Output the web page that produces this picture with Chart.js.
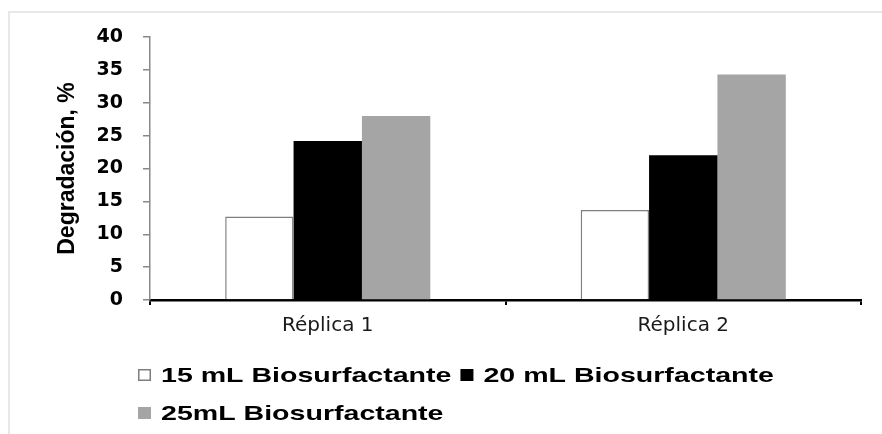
<!DOCTYPE html>
<html><head><meta charset="utf-8">
<script src="https://cdn.jsdelivr.net/npm/chart.js@4/dist/chart.umd.min.js"></script>
<style>
html,body{margin:0;padding:0;background:#fff;}
#wrap{position:relative;width:882px;height:434px;overflow:hidden;}
#frame{position:absolute;left:8px;top:11px;width:900px;height:450px;border-left:2px solid #e8e8e8;border-top:2px solid #e8e8e8;}
canvas{position:absolute;left:0;top:0;}
</style></head><body>
<div id="wrap"><div id="frame"></div><canvas id="c" width="882" height="434"></canvas></div>
<script>
const categories = ['Réplica 1', 'Réplica 2'];
const seriesLabels = ['15 mL Biosurfactante', '20 mL Biosurfactante', '25mL Biosurfactante'];
const values15 = [12.7, 13.7];
const values20 = [24.2, 22.0];
const values25 = [28.0, 34.3];
const yMin = 0, yMax = 40, yStep = 5;
const yTitle = 'Degradación, %';

const legendPlugin = {
  id: 'customLegend',
  afterDraw(chart) {
    const ctx = chart.ctx;
    const sx = 1.36, left = 138, rowH = 38, maxRight = 870;
    let x = left, y = 375;
    ctx.save();
    ctx.font = 'bold 21px "Liberation Sans", Arial, sans-serif';
    ctx.textBaseline = 'middle';
    chart.data.datasets.forEach(ds => {
      const tw = ctx.measureText(ds.label).width * sx;
      const w = 13 + 10 + tw;
      if (x + w > maxRight && x > left) { x = left; y += rowH; }
      ctx.fillStyle = ds.backgroundColor;
      ctx.fillRect(x, y - 6, 13, 12);
      if (ds.borderWidth) {
        ctx.strokeStyle = ds.borderColor; ctx.lineWidth = 1.5;
        ctx.strokeRect(x + 0.75, y - 5.25, 11.5, 10.5);
      }
      ctx.save();
      ctx.translate(x + 23, y + 1);
      ctx.scale(sx, 1);
      ctx.fillStyle = '#000';
      ctx.fillText(ds.label, 0, 0);
      ctx.restore();
      x += w + 9;
    });
    ctx.restore();
  }
};

new Chart(document.getElementById('c'), {
  type: 'bar',
  data: {
    labels: categories,
    datasets: [
      { label: seriesLabels[0], data: values15, backgroundColor: '#ffffff', borderColor: '#7f7f7f', borderWidth: 1.5, borderSkipped: 'start' },
      { label: seriesLabels[1], data: values20, backgroundColor: '#000000', borderWidth: 0 },
      { label: seriesLabels[2], data: values25, backgroundColor: '#a5a5a5', borderWidth: 0 }
    ]
  },
  options: {
    responsive: false,
    animation: false,
    categoryPercentage: 0.577,
    barPercentage: 1.0,
    layout: { padding: { left: 0, right: 21, top: 37, bottom: 0 } },
    plugins: { legend: { display: false }, tooltip: { enabled: false } },
    scales: {
      x: {
        afterFit(s) { s.height = 134; },
        grid: { offset: true, drawOnChartArea: false, drawTicks: true, tickLength: 5, color: '#000', lineWidth: 2 },
        border: { color: '#000', width: 2.5 },
        ticks: { color: '#1a1a1a', padding: 9, font: { family: '"DejaVu Sans", sans-serif', size: 20 } }
      },
      y: {
        min: yMin, max: yMax,
        afterFit(s) { s.width = 150; },
        grid: { drawOnChartArea: false, drawTicks: true, tickLength: 7, color: '#888', lineWidth: 1.5 },
        border: { color: '#888', width: 1.5 },
        ticks: { stepSize: yStep, color: '#000', padding: 20, font: { family: '"DejaVu Sans", sans-serif', size: 19, weight: 'bold' } },
        title: {
          display: true, text: yTitle, color: '#000',
          font: { family: '"Liberation Sans", Arial, sans-serif', size: 23, weight: 'bold' },
          padding: { top: 54, bottom: 0 }
        }
      }
    }
  },
  plugins: [legendPlugin]
});
</script>
</body></html>
